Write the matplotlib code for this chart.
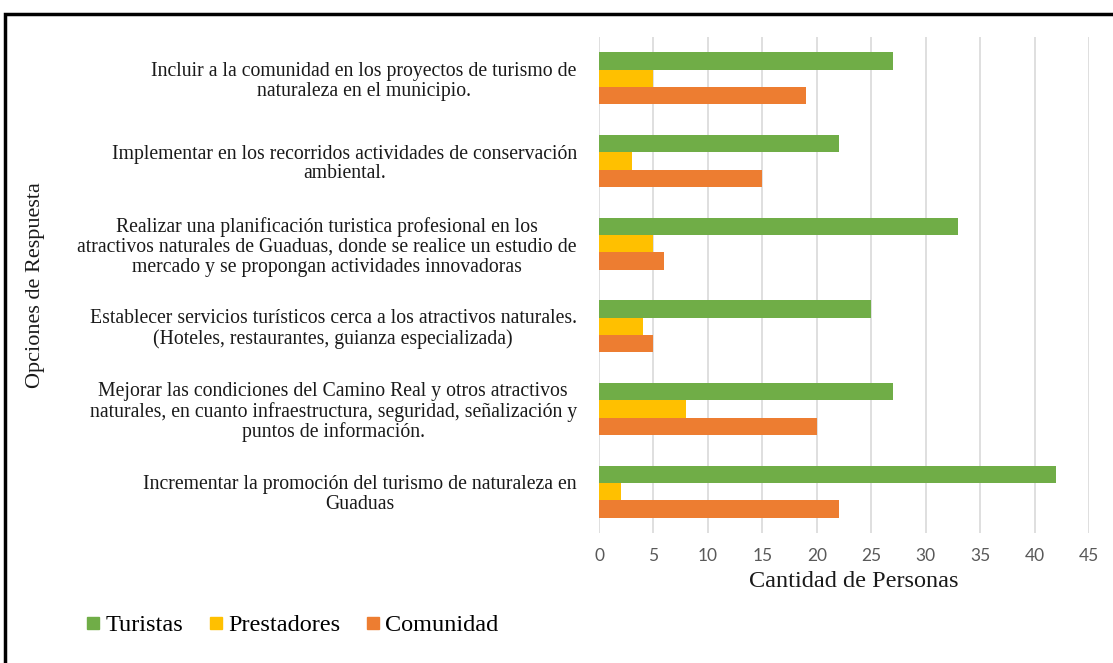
import matplotlib
matplotlib.use("Agg")
import matplotlib.pyplot as plt
import numpy as np
from matplotlib.patches import Rectangle
from matplotlib.lines import Line2D

categories = [
    "Incluir a la comunidad en los proyectos de turismo de\nnaturaleza en el municipio.",
    "Implementar en los recorridos actividades de conservación\nambiental.",
    "Realizar una planificación turistica profesional en los\natractivos naturales de Guaduas, donde se realice un estudio de\nmercado y se propongan actividades innovadoras",
    "Establecer servicios turísticos cerca a los atractivos naturales.\n(Hoteles, restaurantes, guianza especializada)",
    "Mejorar las condiciones del Camino Real y otros atractivos\nnaturales, en cuanto infraestructura, seguridad, señalización y\npuntos de información.",
    "Incrementar la promoción del turismo de naturaleza en\nGuaduas",
]
turistas = [27, 22, 33, 25, 27, 42]
prestadores = [5, 3, 5, 4, 8, 2]
comunidad = [19, 15, 6, 5, 20, 22]
series_names = ["Turistas", "Prestadores", "Comunidad"]
colors = ["#70AD47", "#FFC000", "#ED7D31"]
xticks = [0, 5, 10, 15, 20, 25, 30, 35, 40, 45]

serif = "Liberation Serif"
sans = "Lato"

fig = plt.figure(figsize=(11.13, 6.63), dpi=100)
ax = fig.add_axes([599/1113, 1-533/663, 490/1113, 496/663])

y = np.arange(len(categories))
bh = 0.21
for k, (vals, col, name) in enumerate(zip([turistas, prestadores, comunidad], colors, series_names)):
    ax.barh(y + (k - 1) * bh, vals, height=bh, color=col, label=name, zorder=3)

ax.set_ylim(len(categories) - 0.5, -0.5)
ax.set_xlim(0, 45)
ax.set_xticks(xticks)
ax.set_xticklabels([str(t) for t in xticks], fontfamily=sans, fontsize=12.5, color="#595959")
ax.tick_params(axis="x", length=0, pad=11)
ax.set_yticks(y)
ax.set_yticklabels(categories, fontfamily=serif, fontsize=14.2, color="#1a1a1a",
                   ha="right", multialignment="center", linespacing=1.07)
ax.tick_params(axis="y", length=0, pad=16)
ax.grid(axis="x", color="#d9d9d9", linewidth=1.2, zorder=0)
for s in ax.spines.values():
    s.set_visible(False)

ax.set_xlabel("Cantidad de Personas", fontfamily=serif, fontsize=17.5, color="#1a1a1a")
ax.xaxis.set_label_coords((854 - 599) / 490, -(571 - 533) / 496)
fig.text(36/1113, 1-285/663, "Opciones de Respuesta", rotation=90, fontfamily=serif,
         fontsize=16, color="#1a1a1a", ha="center", va="center")

handles = [Line2D([], [], marker="s", linestyle="none", markersize=8, color=c) for c in colors]
fig.legend(handles, series_names, loc="center left", bbox_to_anchor=(86/1113, 1-625/663),
           ncol=3, frameon=False, prop={"family": serif, "size": 17.5}, handletextpad=0.2,
           columnspacing=1.05, handlelength=0.6, borderpad=0, borderaxespad=0)

fig.patches.append(Rectangle((5/1113, -0.05), 1.2, 1 - 14/663 + 0.05, transform=fig.transFigure,
                             fill=False, edgecolor="black", linewidth=2.5))

fig.savefig("out.png", dpi=100)
